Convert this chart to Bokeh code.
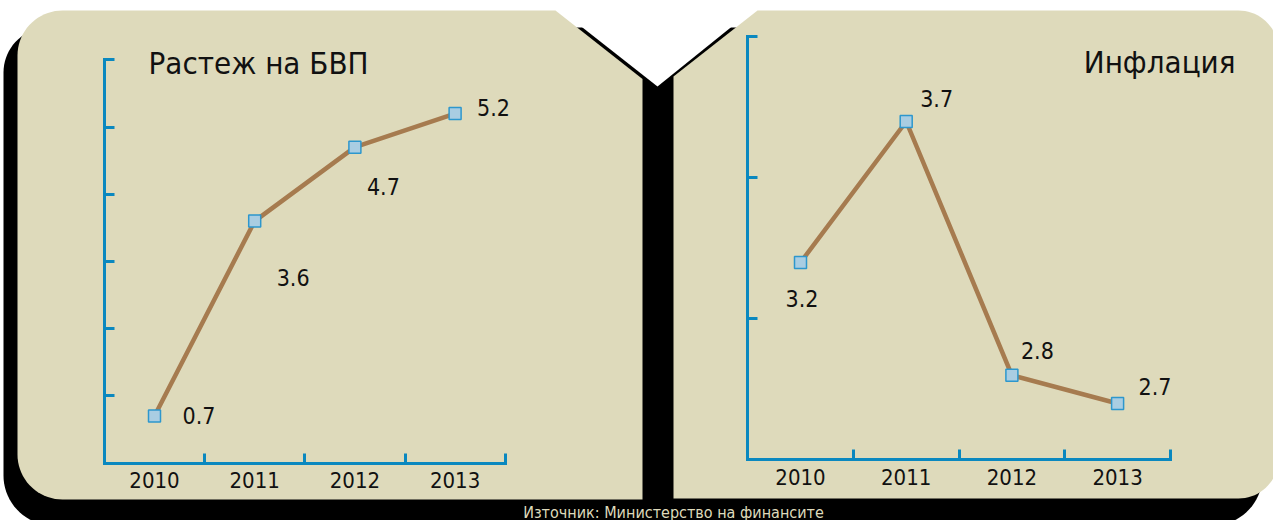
import numpy as np
from bokeh.plotting import figure
from bokeh.models import Range1d, LinearAxis, FixedTicker, ColumnDataSource
from bokeh.core.properties import value
from bokeh.embed import file_html
from bokeh.resources import INLINE

# ---------------- data ----------------
years = [2010, 2011, 2012, 2013]
year_labels = ["2010", "2011", "2012", "2013"]
gdp_growth = [0.7, 3.6, 4.7, 5.2]
inflation = [3.2, 3.7, 2.8, 2.7]
gdp_ticks = [0, 1, 2, 3, 4, 5, 6]
infl_ticks = [2.5, 3.0, 3.5, 4.0]
gdp_title = "Растеж на БВП"
infl_title = "Инфлация"
source_note = "Източник: Министерство на финансите"

# ---------------- style ----------------
FONT = "DejaVu Sans Condensed"
BEIGE = "#dedabb"
BLACK = "#000000"
BLUE = "#0a88bf"
BROWN = "#a67b4f"
MFILL = "#a9cde2"
MLINE = "#2d97cd"
TXT = "#111111"

# label offsets (pixels, relative to each point)
gdp_dx = [28, 22, 12, 22]
gdp_dy = [0, 56, 39, -6]
infl_dx = [-15, 14, 9, 21]
infl_dy = [36, -23, -25, -17]

W, H = 1273, 520
PX0, PX1 = 0, W
PY0, PY1 = 0, H


def xr(v_at, px_at, ppu):
    return Range1d(v_at - (px_at - PX0) / ppu, v_at + (PX1 - px_at) / ppu)


def yr(v_at, py_at, ppu):
    return Range1d(v_at - (PY1 - py_at) / ppu, v_at + (py_at - PY0) / ppu)


def rounded(x0, x1, y0, y1, rtl, rtr, rbr, rbl, n=20):
    xs, ys = [], []
    def arc(cx, cy, r, a0, a1):
        for t in np.linspace(a0, a1, n):
            xs.append(cx + r * np.cos(t)); ys.append(cy + r * np.sin(t))
    arc(x0 + rtl, y0 + rtl, rtl, np.pi, 1.5 * np.pi)
    arc(x1 - rtr, y0 + rtr, rtr, 1.5 * np.pi, 2 * np.pi)
    arc(x1 - rbr, y1 - rbr, rbr, 0, 0.5 * np.pi)
    arc(x0 + rbl, y1 - rbl, rbl, 0.5 * np.pi, np.pi)
    return xs, ys


p = figure(width=W, height=H, output_backend="svg", toolbar_location=None,
           x_range=Range1d(PX0, PX1), y_range=Range1d(PY1, PY0),
           x_axis_type=None, y_axis_type=None, min_border=0,
           background_fill_color="white", border_fill_color="white",
           outline_line_color=None)

p.extra_x_ranges = {"gdp_x": xr(2010, 154, 100.2), "infl_x": xr(2010, 800, 105.7)}
p.extra_y_ranges = {"gdp_y": yr(0, 462.5, 67.2), "infl_y": yr(2.5, 459.4, 282.0)}

# ---------------- decorations (page coordinates) ----------------
bx, by = rounded(3, 1262, 27, 525, 45, 45, 50, 50)
p.patch(bx, by, fill_color=BLACK, line_color=None)

lx, ly = rounded(17, 642, 10, 499, 45, 0, 0, 45)
lx2 = lx[:20] + [555, 642] + lx[40:]
ly2 = ly[:20] + [10, 78.5] + ly[40:]
p.patch(lx2, ly2, fill_color=BEIGE, line_color=None)

rx, ry = rounded(673, 1278, 10, 498, 0, 40, 40, 0)
rx2 = [673, 757] + rx[20:]
ry2 = [76, 10] + ry[20:]
p.patch(rx2, ry2, fill_color=BEIGE, line_color=None)

p.patch([573.1, 657, 738.9], [20, 86, 20], fill_color="white", line_color=None)

# ---------------- titles and source ----------------
p.text(x=[148], y=[62], text=[gdp_title], text_font=value(FONT),
       text_font_size="31px", text_color=TXT, text_baseline="alphabetic", text_align="left")
p.text(x=[1235], y=[61], text=[infl_title], text_font=value(FONT),
       text_font_size="31px", text_color=TXT, text_baseline="alphabetic", text_align="right")
p.text(x=[673], y=[502], text=[source_note], text_font=value(FONT),
       text_font_size="16px", text_color=BEIGE, text_baseline="top", text_align="center")

# ---------------- charts ----------------
def chart(vals, ticks, xname, yname, dx, dy):
    src = ColumnDataSource(dict(year=years, v=vals, lab=[f"{v:.1f}" for v in vals],
                                dx=dx, dy=dy))
    p.line("year", "v", source=src, x_range_name=xname, y_range_name=yname,
           line_color=BROWN, line_width=4.5)
    p.scatter("year", "v", source=src, x_range_name=xname, y_range_name=yname,
              marker="square", size=12, fill_color=MFILL, line_color=MLINE, line_width=1.5)
    p.text("year", "v", text="lab", source=src, x_range_name=xname, y_range_name=yname,
           x_offset="dx", y_offset="dy", text_align="left", text_baseline="middle",
           text_font=value(FONT), text_font_size="23px", text_color=TXT)

    bounds_x = (years[0] - 0.5, years[-1] + 0.5)
    yax = LinearAxis(x_range_name=xname, y_range_name=yname, fixed_location=bounds_x[0],
                     bounds=(ticks[0], ticks[-1]), ticker=FixedTicker(ticks=ticks),
                     major_tick_in=10, major_tick_out=0,
                     major_tick_line_color=BLUE, major_tick_line_width=3,
                     minor_tick_line_color=None,
                     axis_line_color=BLUE, axis_line_width=3, axis_line_cap="square",
                     major_label_overrides={t: "" for t in ticks},
                     major_label_text_font_size="0px")
    p.add_layout(yax, "left")
    xax = LinearAxis(x_range_name=xname, y_range_name=yname, fixed_location=ticks[0],
                     bounds=bounds_x,
                     ticker=FixedTicker(ticks=years, minor_ticks=[y - 0.5 for y in years] + [years[-1] + 0.5]),
                     major_tick_in=0, major_tick_out=0, major_tick_line_color=None,
                     minor_tick_in=10, minor_tick_out=0,
                     minor_tick_line_color=BLUE, minor_tick_line_width=3,
                     axis_line_color=BLUE, axis_line_width=3, axis_line_cap="square",
                     major_label_overrides={y: l for y, l in zip(years, year_labels)},
                     major_label_standoff=9,
                     major_label_text_font=FONT, major_label_text_font_size="22px",
                     major_label_text_color=TXT)
    p.add_layout(xax, "below")


chart(gdp_growth, gdp_ticks, "gdp_x", "gdp_y", gdp_dx, gdp_dy)
chart(inflation, infl_ticks, "infl_x", "infl_y", infl_dx, infl_dy)

open("out.html", "w").write(file_html(p, INLINE))
